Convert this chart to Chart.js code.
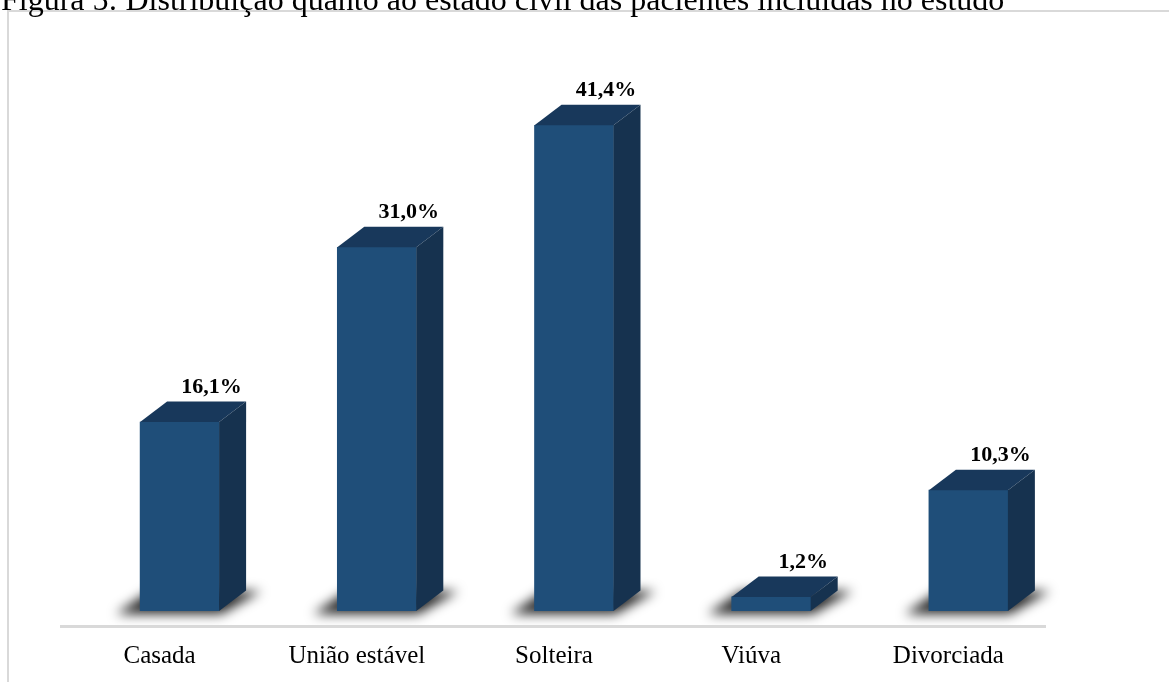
<!DOCTYPE html>
<html lang="pt-BR">
<head>
<meta charset="utf-8">
<title>Figura 5</title>
<script src="https://cdn.jsdelivr.net/npm/chart.js@4.4.1/dist/chart.umd.min.js"></script>
<style>
  html, body { margin: 0; padding: 0; background: #fff; overflow: hidden; }
  #moldura { position: absolute; left: 7px; top: 10px; width: 1200px; height: 700px; border: 2px solid #d9d9d9; }
  #legenda { position: absolute; left: 1px; top: -17px; font: 32px/32px "Liberation Serif", "Times New Roman", serif; color: #000; white-space: nowrap; z-index: 2; }
  #grafico { position: absolute; left: 0; top: 0; z-index: 1; }
</style>
</head>
<body>
<div id="moldura"></div>
<div id="legenda">Figura 5: Distribuição quanto ao estado civil das pacientes incluídas no estudo</div>
<canvas id="grafico" width="1169" height="682"></canvas>
<script>
// Dados do gráfico
const categorias = ['Casada', 'União estável', 'Solteira', 'Viúva', 'Divorciada'];
const percentuais = [16.1, 31.0, 41.4, 1.2, 10.3];
const rotulos = ['16,1%', '31,0%', '41,4%', '1,2%', '10,3%'];

// Cores das faces da barra 3D
const corFrente = '#1f4e79';
const corTopo = '#18385b';
const corLado = '#16324f';
const profundidade = { dx: 27, dy: -20.5 };

// Plugin que desenha sombra, topo e lateral das barras (efeito 3D)
const barras3d = {
    id: 'barras3d',
    beforeDatasetsDraw(chart) {
        const ctx = chart.ctx;
        const meta = chart.getDatasetMeta(0);
        ctx.save();
        ctx.filter = 'blur(6px)';
        ctx.fillStyle = 'rgba(0, 0, 0, 0.85)';
        meta.data.forEach(bar => {
            const l = bar.x - bar.width / 2;
            const r = bar.x + bar.width / 2;
            const b = bar.base;
            ctx.beginPath();
            ctx.moveTo(l - 24, b + 3);
            ctx.lineTo(r + 2, b + 3);
            ctx.lineTo(r + 42, b - 20);
            ctx.lineTo(l + 10, b - 20);
            ctx.closePath();
            ctx.fill();
        });
        ctx.restore();
    },
    afterDatasetsDraw(chart) {
        const ctx = chart.ctx;
        const meta = chart.getDatasetMeta(0);
        const { dx, dy } = profundidade;
        ctx.save();
        meta.data.forEach((bar, i) => {
            const l = bar.x - bar.width / 2;
            const r = bar.x + bar.width / 2;
            const t = bar.y;
            const b = bar.base;

            // topo
            ctx.fillStyle = corTopo;
            ctx.beginPath();
            ctx.moveTo(l, t);
            ctx.lineTo(r, t);
            ctx.lineTo(r + dx, t + dy);
            ctx.lineTo(l + dx, t + dy);
            ctx.closePath();
            ctx.fill();

            // lateral
            ctx.fillStyle = corLado;
            ctx.beginPath();
            ctx.moveTo(r, t);
            ctx.lineTo(r + dx, t + dy);
            ctx.lineTo(r + dx, b + dy);
            ctx.lineTo(r, b);
            ctx.closePath();
            ctx.fill();

            // rótulo de dados
            ctx.fillStyle = '#000';
            ctx.font = 'bold 22px "Liberation Serif", "Times New Roman", serif';
            ctx.textAlign = 'center';
            ctx.textBaseline = 'alphabetic';
            ctx.fillText(rotulos[i], bar.x + 32, t - 29);
        });

        // linha do eixo
        const area = chart.chartArea;
        ctx.strokeStyle = '#d9d9d9';
        ctx.lineWidth = 3;
        ctx.beginPath();
        ctx.moveTo(area.left - 21, area.bottom + 15.5);
        ctx.lineTo(area.right - 21, area.bottom + 15.5);
        ctx.stroke();
        ctx.restore();
    }
};

function renderGrafico() {
    const ctx = document.getElementById('grafico').getContext('2d');

    new Chart(ctx, {
        type: 'bar',
        data: {
            labels: categorias,
            datasets: [{
                data: percentuais,
                backgroundColor: corFrente,
                borderWidth: 0,
                barThickness: 79
            }]
        },
        options: {
            responsive: false,
            animation: false,
            devicePixelRatio: 1,
            layout: { padding: { left: 81, right: 102, top: 83, bottom: -19 } },
            plugins: {
                legend: { display: false },
                tooltip: { enabled: false }
            },
            scales: {
                x: {
                    grid: { display: false, drawTicks: false },
                    border: { display: false },
                    ticks: {
                        color: '#000',
                        font: { family: '"Liberation Serif", "Times New Roman", serif', size: 25 },
                        padding: 30,
                        labelOffset: -20
                    }
                },
                y: {
                    display: false,
                    min: 0,
                    max: 45
                }
            }
        },
        plugins: [barras3d]
    });
}

renderGrafico();
</script>
</body>
</html>
